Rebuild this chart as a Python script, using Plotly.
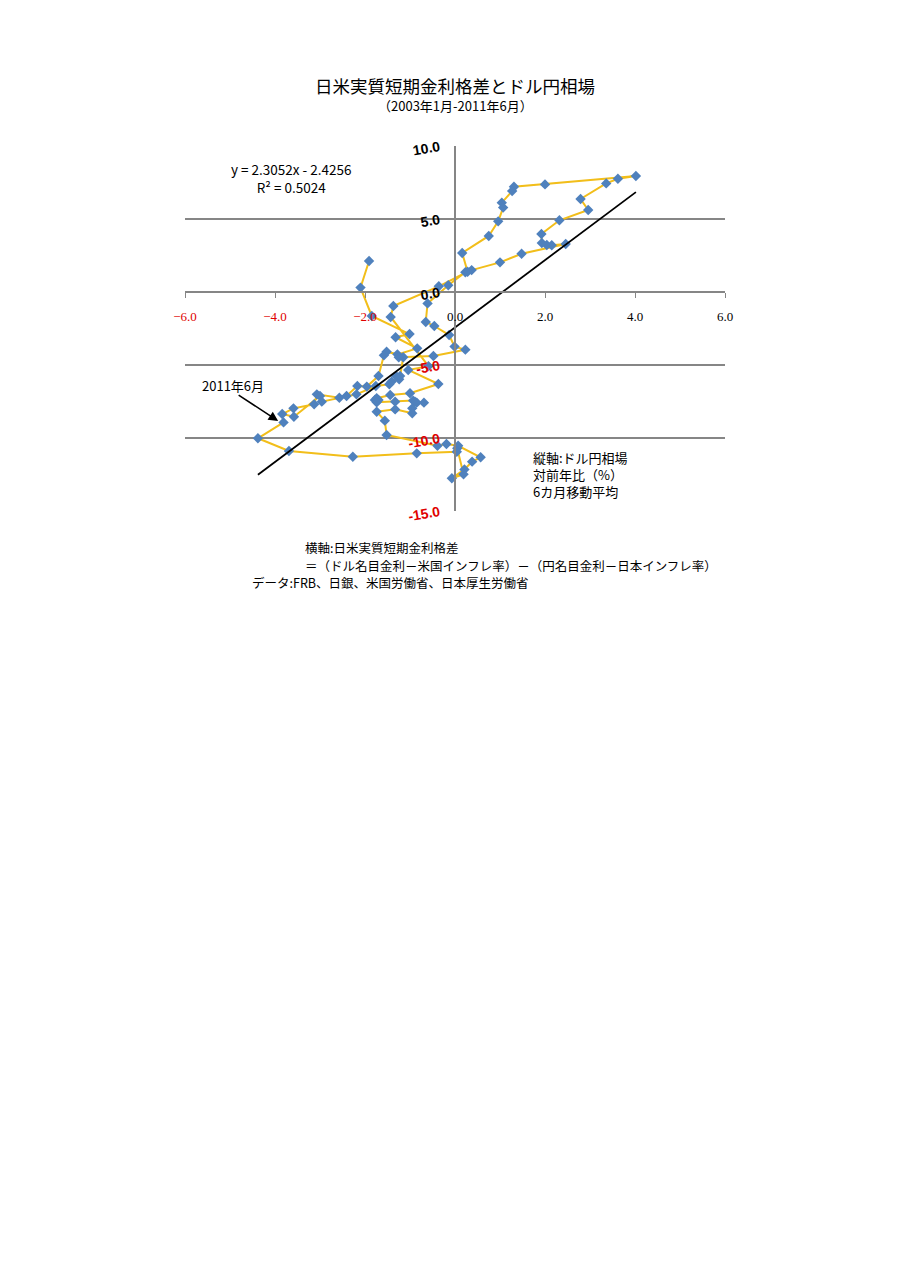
"""
日米実質短期金利格差とドル円相場 (2003年1月-2011年6月)
- scatter path of monthly points + linear trend line
"""

import plotly.graph_objects as go

# -------------------------------
# Data
# -------------------------------
# horizontal: 日米実質短期金利格差 (%pt), vertical: ドル円相場 対前年比 6カ月移動平均 (%)
rate_gap = [
    -1.91, -2.10, -1.85, -1.01, -1.32, -0.84, -1.28, -1.52, -1.58, -1.70,
    -1.96, -2.17, -2.41, -2.57, -3.07, -3.13, -3.59, -3.84, -3.58, -3.00,
    -2.96, -2.19, -1.76, -1.46, -1.41, -1.24, -1.31, -1.22, -1.15, -1.25,
    -0.48, 0.23, -0.01, -0.13, -0.46, -0.65, -0.61, -0.15, 0.23, 0.37,
    1.00, 1.48, 2.46, 2.15, 2.04, 1.93, 1.92, 2.32, 2.96, 2.79,
    3.36, 3.62, 4.02, 2.00, 1.31, 1.27, 1.04, 1.07, 0.96, 0.75,
    0.16, 0.28, -0.36, -1.37, -1.43, -0.59, -1.04, -0.37, -1.00, -1.44,
    -1.74, -1.70, -1.78, -1.74, -1.33, -0.93, -0.85, -0.69, -0.89, -0.95,
    -0.95, -1.33, -1.74, -1.56, -1.52, -0.39, -0.19, 0.07, 0.57, 0.38,
    0.21, -0.07, 0.19, 0.05, 0.04, -0.85, -2.27, -3.69, -4.38, -3.81,
]
usdjpy_yoy = [
    2.12, 0.30, -1.64, -2.88, -3.10, -3.86, -4.27, -4.09, -4.34, -5.75,
    -6.48, -6.44, -7.12, -7.24, -7.01, -7.69, -7.97, -8.36, -8.54, -7.12,
    -7.51, -7.01, -6.44, -6.32, -6.14, -5.98, -5.75, -5.75, -4.47, -4.47,
    -4.38, -3.95, -3.74, -2.95, -2.33, -2.05, -0.78, 0.46, 1.35, 1.50,
    2.03, 2.62, 3.29, 3.20, 3.22, 3.36, 3.97, 4.91, 5.62, 6.37,
    7.44, 7.76, 7.95, 7.37, 7.21, 6.92, 6.12, 5.78, 4.84, 3.84,
    2.67, 1.39, 0.39, -0.96, -1.71, -5.08, -5.34, -6.30, -6.94, -7.05,
    -7.28, -7.40, -7.40, -7.55, -7.51, -7.44, -7.58, -7.58, -7.51, -7.97,
    -8.31, -8.04, -8.20, -8.81, -9.79, -10.53, -10.41, -10.53, -11.32, -11.62,
    -12.15, -12.76, -12.49, -10.71, -10.94, -11.05, -11.28, -10.89, -10.02, -8.93,
]

# regression shown on the chart
slope = 2.3052
intercept = -2.4256
r_squared = 0.5024

x_ticks = [-6.0, -4.0, -2.0, 0.0, 2.0, 4.0, 6.0]
y_ticks = [10.0, 5.0, 0.0, -5.0, -10.0, -15.0]

FONT = "Noto Sans CJK JP"
RED = "#E00000"


def tick_label(v, bold=False, minus="-"):
    s = f"{v:.1f}".replace("-", minus)
    if bold:
        s = f"<b>{s}</b>"
    if v < 0:
        return f"<span style='color:{RED}'>{s}</span>"
    return s


# -------------------------------
# Figure
# -------------------------------
fig = go.Figure()

fig.add_trace(go.Scatter(
    x=rate_gap, y=usdjpy_yoy, mode="lines+markers",
    line=dict(color="#F2BE1A", width=2),
    marker=dict(symbol="diamond", size=8, color="#4F81BD"),
    showlegend=False, hoverinfo="x+y",
))

# linear trend over the x range of the data
x_lo, x_hi = min(rate_gap), max(rate_gap)
fig.add_trace(go.Scatter(
    x=[x_lo, x_hi], y=[slope * x_lo + intercept, slope * x_hi + intercept],
    mode="lines", line=dict(color="black", width=1.8),
    showlegend=False, hoverinfo="skip",
))

# page body adds ~8px, so margins are pulled in by that much
fig.update_layout(
    width=905, height=1280,
    margin=dict(l=177, r=188, t=138, b=777),
    paper_bgcolor="white", plot_bgcolor="white",
    font=dict(family=FONT, color="black", size=12),
    xaxis=dict(
        range=[-6, 6], tickvals=x_ticks,
        ticktext=[tick_label(v, minus="−") for v in x_ticks],
        anchor="free", position=0.6,
        showgrid=False, zeroline=False,
        showline=True, linecolor="#868686", linewidth=1.5,
        ticks="outside", ticklen=5, tickcolor="#868686",
        ticklabelstandoff=8,
        tickfont=dict(family="Liberation Serif", size=13),
    ),
    yaxis=dict(
        range=[-15, 10], tickvals=y_ticks,
        ticktext=[tick_label(v, bold=True) for v in y_ticks],
        anchor="free", position=0.5,
        showgrid=True, gridcolor="#868686", gridwidth=1.5,
        zeroline=False,
        showline=True, linecolor="#868686", linewidth=1.5,
        tickangle=-10, ticklabelstandoff=12,
        tickfont=dict(family="Liberation Sans", size=14),
    ),
)


def note(text, x, y, size, xanchor="center", align="center"):
    fig.add_annotation(text=text, xref="paper", yref="paper", x=x, y=y,
                       xanchor=xanchor, yanchor="middle", align=align,
                       showarrow=False, font=dict(size=size))


# titles
note("日米実質短期金利格差とドル円相場", 0.5, 1.167, 17.5)
note("（2003年1月-2011年6月）", 0.5, 1.112, 13)

# regression text
note(f"y = {slope}x - {abs(intercept)}<br>R² = {r_squared}", 0.196, 0.912, 13.5)

# latest point callout
note("2011年6月", 0.089, 0.345, 13)
fig.add_annotation(x=-3.93, y=-8.84, xref="x", yref="y", text="",
                   showarrow=True, ax=-41, ay=-27, arrowhead=2,
                   arrowsize=1.2, arrowwidth=1.6, arrowcolor="black")

# axis notes
note("縦軸:ドル円相場<br>対前年比（%）<br>6カ月移動平均", 0.641, 0.101, 13,
     xanchor="left", align="left")
note("横軸:日米実質短期金利格差", 0.2185, -0.099, 12.5, xanchor="left")
note("＝（ドル名目金利－米国インフレ率）－（円名目金利－日本インフレ率）",
     0.2185, -0.148, 12.5, xanchor="left")
note("データ:FRB、日銀、米国労働省、日本厚生労働省", 0.12, -0.195, 12.5, xanchor="left")

fig.write_html("out.html")
